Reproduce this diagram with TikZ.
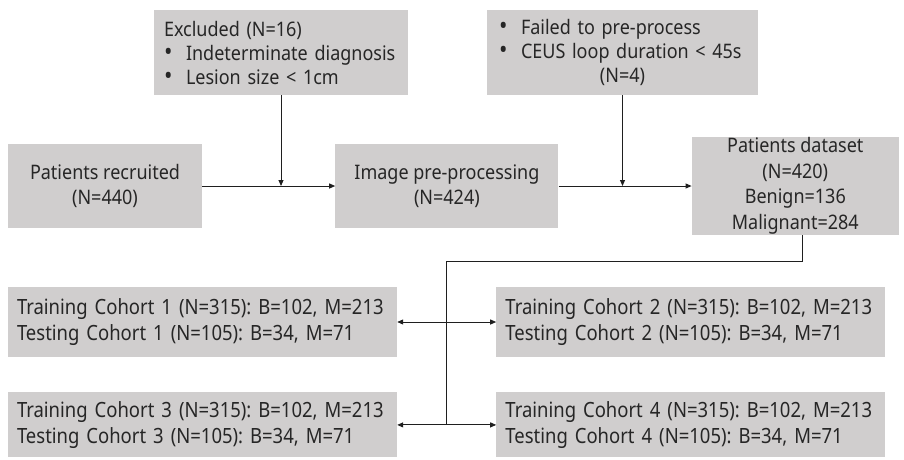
\documentclass[tikz,border=0pt]{standalone}
\usepackage{fontspec}
\setmainfont[FakeStretch=0.9]{Noto Sans}
\newfontfamily\cohortfont[FakeStretch=0.88]{Noto Sans}
\usepackage{xcolor}
\definecolor{boxgray}{HTML}{D0CECE}
\definecolor{inkgray}{HTML}{262626}
\definecolor{linegray}{HTML}{1F1F1F}
\usetikzlibrary{
  arrows.meta,
  positioning,
  calc
}
\newcommand{\listdot}{\makebox[22pt][l]{\scalebox{1.25}{•}}}
\frenchspacing

\begin{document}
\begin{tikzpicture}[x=1pt, y=1pt,
  flowbox/.style={rectangle, fill=boxgray, text=inkgray, inner sep=0pt, align=center, font=\fontsize{20}{25}\selectfont},
  notebox/.style={rectangle, fill=boxgray, text=inkgray, inner xsep=10pt, inner ysep=0pt, align=left, minimum height=85pt, font=\fontsize{20}{24}\selectfont},
  cohort/.style={rectangle, fill=boxgray, text=inkgray, inner xsep=9pt, inner ysep=0pt, align=left, text width=371pt, font=\cohortfont\fontsize{21}{26}\selectfont},
  arr/.style={-{Triangle[length=6pt, width=5pt]}, line width=0.9pt, linegray},
  link/.style={line width=0.9pt, linegray},
]
\useasboundingbox (0,0) rectangle (904,-459);

% top row
\node[flowbox, minimum width=194pt, minimum height=84pt] (recruit) at (105,-186) {Patients recruited\\(N=440)};
\node[flowbox, minimum width=223pt, minimum height=84pt, right=133pt of recruit] (prep) {Image pre-processing\\(N=424)};
\node[flowbox, minimum width=207pt, minimum height=98pt, right=133pt of prep, font=\fontsize{20}{25.5}\selectfont] (dataset) {Patients dataset\\(N=420)\\Benign=136\\Malignant=284};

% exclusions
\node[notebox, text width=234pt] (excl) at (281,-52.5) {Excluded (N=16)\\\listdot Indeterminate diagnosis\\\listdot Lesion size < 1cm};
\node[notebox, inner xsep=12pt, text width=247pt] (fail) at (622.5,-52.5) {\listdot Failed to pre-process\\\listdot CEUS loop duration < 45s\\\makebox[247pt][c]{(N=4)}};

% cohorts
\node[cohort, minimum height=70pt] (c1) at (202.5,-322) {Training Cohort 1 (N=315): B=102, M=213\\Testing Cohort 1 (N=105): B=34, M=71};
\node[cohort, minimum height=70pt, right=99pt of c1] (c2) {Training Cohort 2 (N=315): B=102, M=213\\Testing Cohort 2 (N=105): B=34, M=71};
\node[cohort, minimum height=65pt, below=35pt of c1] (c3) {Training Cohort 3 (N=315): B=102, M=213\\Testing Cohort 3 (N=105): B=34, M=71};
\node[cohort, minimum height=65pt, right=99pt of c3] (c4) {Training Cohort 4 (N=315): B=102, M=213\\Testing Cohort 4 (N=105): B=34, M=71};

\coordinate (hubA) at ($(c1.east)!0.5!(c2.west)$);
\coordinate (hubB) at ($(c3.east)!0.5!(c4.west)$);

\draw[arr] (recruit) -- (prep);
\draw[arr] (prep) -- (dataset);
\draw[arr] (excl) -- (excl |- recruit.east);
\draw[arr] (fail) -- (fail |- prep.east);

\draw[link] ([xshift=7.5pt]dataset.south) -- ++(0,-26) -| (hubB);
\draw[arr] (hubA) -- (c1);
\draw[arr] (hubA) -- (c2);
\draw[arr] (hubB) -- (c3);
\draw[arr] (hubB) -- (c4);

\end{tikzpicture}
\end{document}
